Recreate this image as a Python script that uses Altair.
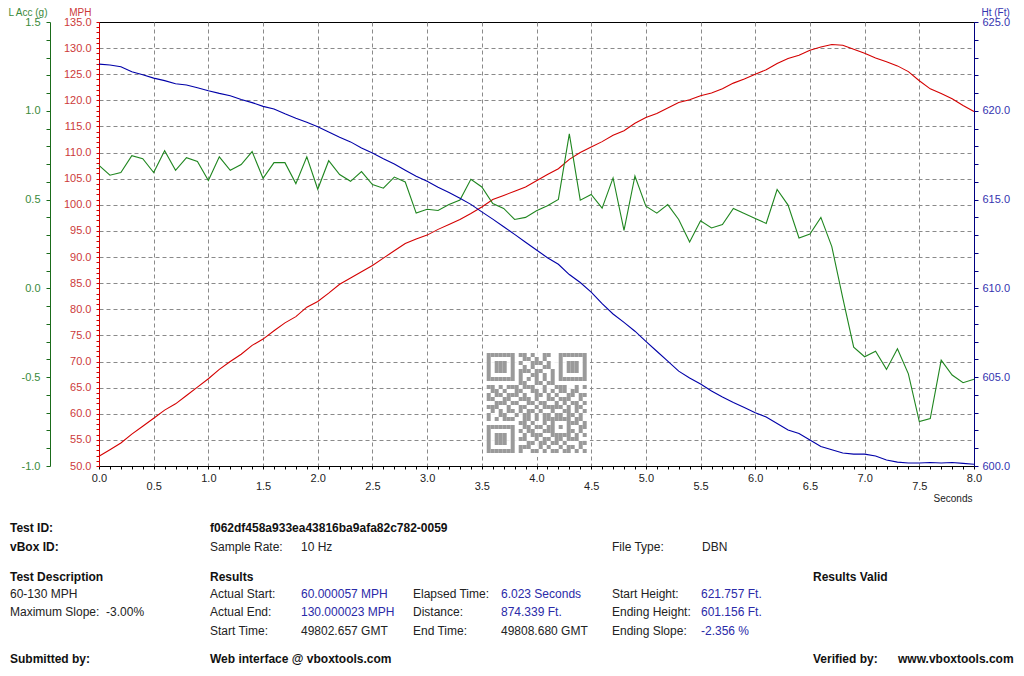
import altair as alt
import pandas as pd

# ---------------- data ----------------
TIME_S = [0.0, 0.1, 0.2, 0.3, 0.4, 0.5, 0.6, 0.7, 0.8, 0.9,
          1.0, 1.1, 1.2, 1.3, 1.4, 1.5, 1.6, 1.7, 1.8, 1.9,
          2.0, 2.1, 2.2, 2.3, 2.4, 2.5, 2.6, 2.7, 2.8, 2.9,
          3.0, 3.1, 3.2, 3.3, 3.4, 3.5, 3.6, 3.7, 3.8, 3.9,
          4.0, 4.1, 4.2, 4.3, 4.4, 4.5, 4.6, 4.7, 4.8, 4.9,
          5.0, 5.1, 5.2, 5.3, 5.4, 5.5, 5.6, 5.7, 5.8, 5.9,
          6.0, 6.1, 6.2, 6.3, 6.4, 6.5, 6.6, 6.7, 6.8, 6.9,
          7.0, 7.1, 7.2, 7.3, 7.4, 7.5, 7.6, 7.7, 7.8, 7.9, 8.0]

SPEED_MPH = [51.85, 53.1, 54.4, 56.1, 57.6, 59.15, 60.7, 61.9, 63.5, 65.1,
             66.7, 68.5, 70.0, 71.4, 73.1, 74.3, 75.9, 77.4, 78.6, 80.4,
             81.5, 83.1, 84.8, 86.0, 87.2, 88.4, 89.8, 91.2, 92.6, 93.45,
             94.2, 95.3, 96.25, 97.2, 98.35, 99.6, 101.0, 101.8, 102.6, 103.4,
             104.6, 105.8, 106.9, 108.7, 110.0, 111.05, 112.1, 113.3, 114.2, 115.6,
             116.7, 117.5, 118.55, 119.6, 120.1, 120.9, 121.4, 122.2, 123.3, 124.1,
             125.0, 125.85, 127.05, 128.0, 128.65, 129.6, 130.2, 130.7, 130.55, 129.8,
             129.0, 128.1, 127.4, 126.6, 125.5, 123.75, 122.2, 121.3, 120.3, 119.0, 117.85]

LAT_ACC_G = [0.693, 0.637, 0.652, 0.747, 0.730, 0.652, 0.775, 0.665, 0.736, 0.715,
             0.607, 0.741, 0.665, 0.697, 0.770, 0.620, 0.708, 0.708, 0.590, 0.741,
             0.558, 0.719, 0.641, 0.603, 0.658, 0.585, 0.564, 0.627, 0.599, 0.424,
             0.446, 0.439, 0.472, 0.498, 0.614, 0.571, 0.478, 0.450, 0.388, 0.400,
             0.437, 0.465, 0.501, 0.870, 0.497, 0.529, 0.452, 0.622, 0.327, 0.633,
             0.463, 0.424, 0.472, 0.388, 0.261, 0.381, 0.340, 0.360, 0.450, 0.422,
             0.394, 0.366, 0.557, 0.469, 0.284, 0.306, 0.400, 0.235, -0.053, -0.331,
             -0.385, -0.354, -0.456, -0.340, -0.481, -0.750, -0.733, -0.404, -0.488, -0.531, -0.512]

HEIGHT_FT = [622.63, 622.58, 622.48, 622.2, 622.03, 621.84, 621.7, 621.52, 621.45, 621.3,
             621.13, 620.98, 620.85, 620.64, 620.46, 620.25, 620.1, 619.83, 619.58, 619.36,
             619.1, 618.8, 618.51, 618.25, 617.9, 617.62, 617.3, 617.0, 616.65, 616.31,
             616.03, 615.7, 615.4, 615.08, 614.73, 614.31, 613.9, 613.47, 613.04, 612.6,
             612.16, 611.73, 611.36, 610.78, 610.33, 609.79, 609.14, 608.56, 608.09, 607.59,
             607.02, 606.46, 605.9, 605.34, 604.96, 604.62, 604.22, 603.88, 603.57, 603.29,
             603.0, 602.76, 602.39, 602.03, 601.83, 601.46, 601.1, 600.91, 600.73, 600.67,
             600.67, 600.56, 600.34, 600.22, 600.17, 600.17, 600.2, 600.17, 600.2, 600.15, 600.1]

# axis tick values
SEC_TICKS = [round(i / 10, 1) for i in range(81)]
MPH_TICKS = list(range(50, 136))
ACC_TICKS = [round(-1.0 + i / 10, 1) for i in range(26)]
HT_TICKS = list(range(600, 626))

# report text below the chart
INFO_TEXT = [
    "Test ID:", "f062df458a933ea43816ba9afa82c782-0059",
    "vBox ID:", "Sample Rate:", "10 Hz", "File Type:", "DBN",
    "Test Description", "Results", "Results Valid",
    "60-130 MPH", "Maximum Slope:\u00a0 -3.00%",
    "Actual Start:", "60.000057 MPH", "Elapsed Time:", "6.023 Seconds", "Start Height:", "621.757 Ft.",
    "Actual End:", "130.000023 MPH", "Distance:", "874.339 Ft.", "Ending Height:", "601.156 Ft.",
    "Start Time:", "49802.657 GMT", "End Time:", "49808.680 GMT", "Ending Slope:", "-2.356 %",
    "Submitted by:", "Web interface @ vboxtools.com", "Verified by:", "www.vboxtools.com",
]

# decorative QR code modules (1 = dark)
QR_ROWS = [
    "1111111011010011001111111",
    "1000001001101010001000001",
    "1011101010011101001011101",
    "1011101001010011001011101",
    "1011101011101100101011101",
    "1000001010011010101000001",
    "1111111010101010101111111",
    "0000000011001101100000000",
    "1101011101110010011100101",
    "0110100110011010101101100",
    "1011011101001101010011011",
    "1100110011101001101110010",
    "0011101100110110010101101",
    "1110010011001011111010110",
    "0101011010110100100110101",
    "1001100101101011011011010",
    "1010111001101011111110110",
    "0000000011010010100011101",
    "1111111001101101101010011",
    "1000001010110011100011010",
    "1011101001011100111110101",
    "1011101011001011011011100",
    "1011101000110110110100011",
    "1000001011100101001011010",
    "1111111010011010110110101",
]

# ---------------- layout / style ----------------
FONT = "Liberation Sans"
RED, RED_TXT = "#d40000", "#cc3a3a"
GREEN, GREEN_TXT, GREEN_AX = "#1f861f", "#3a8a3a", "#1a6b1a"
BLUE, BLUE_TXT, BLUE_AX = "#0000a8", "#3434b0", "#000080"
VALUE_BLUE = "#2a2aa8"
GRID = "#8a8a8a"
W, H = 875, 444
ORIGIN_X, ORIGIN_Y = 99, 22  # page position of the plot area

# (page x, page y, style) for each INFO_TEXT entry
INFO_LAYOUT = [
    (10, 528, "b"), (210, 528, "b"),
    (10, 547, "b"), (210, 547, "n"), (301, 547, "n"), (612, 547, "n"), (702, 547, "n"),
    (10, 577, "b"), (210, 577, "b"), (813, 577, "b"),
    (10, 594, "n"), (10, 612, "n"),
    (210, 594, "n"), (301, 594, "v"), (413, 594, "n"), (501, 594, "v"), (612, 594, "n"), (701, 594, "v"),
    (210, 612, "n"), (301, 612, "v"), (413, 612, "n"), (501, 612, "v"), (612, 612, "n"), (701, 612, "v"),
    (210, 631, "n"), (301, 631, "n"), (413, 631, "n"), (501, 631, "n"), (612, 631, "n"), (701, 631, "v"),
    (10, 659, "b"), (210, 659, "b"), (813, 659, "b"), (898, 659, "b"),
]

# page box of the QR code (modules) and its white backing
QR_BOX = (486.7, 353, 586.7, 453)
QR_BACK = (483, 348, 590, 457)

df = pd.DataFrame({"t": TIME_S, "mph": SPEED_MPH, "acc": LAT_ACC_G, "ht": HEIGHT_FT})

HALF = "abs(datum.value*2 - round(datum.value*2)) < 0.001"
INT = "abs(datum.value - round(datum.value)) < 0.001"
FIX = "replace(format(datum.value, '.1f'), '\u2212', '-')"

x_axis = alt.Axis(
    values=SEC_TICKS, labelExpr=f"{HALF} ? {FIX} : ''",
    labelOverlap=False, labelFlush=False,
    labelPadding={"condition": {"test": INT, "value": 3}, "value": 11},
    tickSize=3, tickColor="#000000", domainColor="#000000",
    labelColor="#222222", labelFontSize=11,
    grid=True, gridColor=GRID, gridDash=[4, 3],
    gridOpacity={"condition": {"test": f"{HALF} && datum.value > 0.01 && datum.value < 7.99", "value": 1}, "value": 0},
    title="Seconds", titleX=W - 2, titleY=32, titleAlign="right", titleBaseline="middle",
    titleFontSize=10, titleFontWeight="normal", titleColor="#222222",
)

TITLE_Y = -10

mph_axis = alt.Axis(
    orient="left", values=MPH_TICKS,
    labelExpr=f"datum.value % 5 === 0 ? {FIX} : ''",
    labelOverlap=False, labelFlush=False, tickSize=3, labelPadding=5,
    tickColor=RED, domainColor=RED, labelColor=RED_TXT, labelFontSize=11,
    grid=True, gridColor=GRID, gridDash=[4, 3],
    gridOpacity={"condition": {"test": "datum.value % 5 === 0 && datum.value > 50 && datum.value < 135", "value": 1}, "value": 0},
    title="MPH", titleAngle=0, titleX=-8, titleY=TITLE_Y, titleAlign="right", titleBaseline="middle",
    titleColor=RED_TXT, titleFontSize=10, titleFontWeight="normal",
)

acc_axis = alt.Axis(
    orient="left", offset=49, values=ACC_TICKS,
    labelExpr=f"{HALF} ? {FIX} : ''",
    labelOverlap=False, labelFlush=False, tickSize=4, labelPadding=6,
    tickColor=GREEN_AX, domainColor=GREEN_AX, labelColor=GREEN_TXT, labelFontSize=11,
    grid=False,
    title="L Acc (g)", titleAngle=0, titleX=-3, titleY=TITLE_Y, titleAlign="right", titleBaseline="middle",
    titleColor=GREEN_TXT, titleFontSize=10, titleFontWeight="normal",
)

ht_axis = alt.Axis(
    orient="right", values=HT_TICKS,
    labelExpr=f"datum.value % 5 === 0 ? {FIX} : ''",
    labelOverlap=False, labelFlush=False, tickSize=4, labelPadding=4,
    tickColor=BLUE_AX, domainColor=BLUE_AX, labelColor=BLUE_TXT, labelFontSize=11,
    grid=False,
    title="Ht (Ft)", titleAngle=0, titleX=7, titleY=TITLE_Y, titleAlign="left", titleBaseline="middle",
    titleColor=BLUE_TXT, titleFontSize=10, titleFontWeight="normal",
)

x_scale = alt.Scale(domain=[0, 8], nice=False, zero=False)
base = alt.Chart(df)

red = base.mark_line(color=RED, strokeWidth=1.1).encode(
    x=alt.X("t:Q", scale=x_scale, axis=x_axis),
    y=alt.Y("mph:Q", scale=alt.Scale(domain=[50, 135], nice=False, zero=False), axis=mph_axis),
)
green = base.mark_line(color=GREEN, strokeWidth=1.1).encode(
    x=alt.X("t:Q", scale=x_scale, axis=None),
    y=alt.Y("acc:Q", scale=alt.Scale(domain=[-1.0, 1.5], nice=False, zero=False), axis=acc_axis),
)
blue = base.mark_line(color=BLUE, strokeWidth=1.1).encode(
    x=alt.X("t:Q", scale=x_scale, axis=None),
    y=alt.Y("ht:Q", scale=alt.Scale(domain=[600, 625], nice=False, zero=False), axis=ht_axis),
)

# QR code overlay
qr_c, qr_r = [], []
for r, row in enumerate(QR_ROWS):
    for c, ch in enumerate(row):
        if ch == "1":
            qr_c.append(c)
            qr_r.append(r)
qr_df = pd.DataFrame({"c": qr_c, "r": qr_r})
qr_df["c2"] = qr_df["c"] + 1
qr_df["r2"] = qr_df["r"] + 1

qr_back = alt.Chart(pd.DataFrame({"k": [0]})).mark_rect(color="white", opacity=0.88).encode(
    x=alt.value(QR_BACK[0] - ORIGIN_X), x2=alt.value(QR_BACK[2] - ORIGIN_X),
    y=alt.value(QR_BACK[1] - ORIGIN_Y), y2=alt.value(QR_BACK[3] - ORIGIN_Y),
)
qr = alt.Chart(qr_df).mark_rect(color="#9a9a9a").encode(
    x=alt.X("c:Q", scale=alt.Scale(domain=[0, 25], range=[QR_BOX[0] - ORIGIN_X, QR_BOX[2] - ORIGIN_X],
                                   nice=False, zero=False), axis=None),
    x2="c2:Q",
    y=alt.Y("r:Q", scale=alt.Scale(domain=[0, 25], range=[QR_BOX[1] - ORIGIN_Y, QR_BOX[3] - ORIGIN_Y],
                                   nice=False, zero=False), axis=None),
    y2="r2:Q",
)

# report text
txt_df = pd.DataFrame({
    "txt": INFO_TEXT,
    "px": [p[0] - ORIGIN_X for p in INFO_LAYOUT],
    "py": [p[1] - ORIGIN_Y for p in INFO_LAYOUT],
    "style": [p[2] for p in INFO_LAYOUT],
})
txt_df["col"] = txt_df["style"].map({"b": "#111111", "n": "#222222", "v": VALUE_BLUE})

bold_txt = alt.Chart(txt_df[txt_df["style"] == "b"]).mark_text(
    align="left", baseline="middle", font=FONT, fontSize=12, fontWeight="bold"
).encode(
    x=alt.X("px:Q", scale=None, axis=None),
    y=alt.Y("py:Q", scale=None, axis=None),
    text="txt:N",
    color=alt.Color("col:N", scale=None),
)
plain_txt = alt.Chart(txt_df[txt_df["style"] != "b"]).mark_text(
    align="left", baseline="middle", font=FONT, fontSize=12
).encode(
    x=alt.X("px:Q", scale=None, axis=None),
    y=alt.Y("py:Q", scale=None, axis=None),
    text="txt:N",
    color=alt.Color("col:N", scale=None),
)

chart = alt.layer(
    qr_back, qr, red, green, blue, bold_txt, plain_txt
).resolve_scale(
    x="independent", y="independent"
).properties(
    width=W, height=H,
    autosize=alt.AutoSizeParams(type="none"),
    padding={"left": ORIGIN_X - 8, "top": ORIGIN_Y - 8, "right": 42, "bottom": 658 - (ORIGIN_Y - 8) - H},
    background="white",
).configure_view(
    stroke="#000000", strokeWidth=1
).configure_axis(
    labelFont=FONT, titleFont=FONT
)

chart.save("out.html", embed_options={"renderer": "svg", "actions": False})
